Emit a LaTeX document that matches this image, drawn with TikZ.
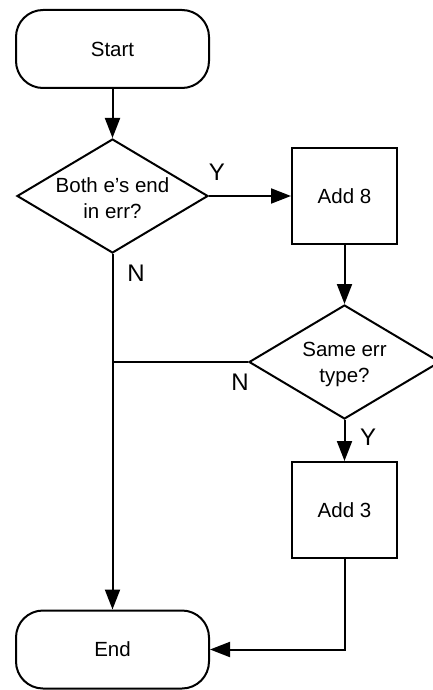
\documentclass[tikz,border=0pt]{standalone}
\usepackage{fontspec}
\setmainfont[Ligatures=NoCommon]{Liberation Sans}
\usetikzlibrary{shapes.geometric,arrows.meta}
\begin{document}
\begin{tikzpicture}[x=1pt,y=-1pt,
  every node/.style={font=\fontsize{20.5}{26}\selectfont},
  term/.style={draw,line width=2pt,rounded corners=27pt,minimum width=193pt,minimum height=78pt,inner sep=0pt},
  proc/.style={draw,line width=2pt,minimum width=105pt,minimum height=96pt,inner sep=0pt},
  decision/.style={draw,line width=2pt,diamond,minimum width=191pt,minimum height=114pt,inner sep=0pt},
  dtext/.style={align=center,inner sep=0pt},
  yn/.style={font=\fontsize{24}{28}\selectfont,inner sep=0pt},
  conn/.style={line width=2pt},
  arr/.style={conn,-{Triangle[length=20pt,width=15pt]}}]
\useasboundingbox (0,0) rectangle (433,690);
\clip (0,0) rectangle (433,690);
\node[term] (start) at (112.5,49) {Start};
\node[decision] (d1) at (112.5,196) {};
\node[dtext] (t1) at (112.5,198) {Both e{\char"27}s end\\in err?};
\node[proc] (a8) at (344.5,196) {Add 8};
\node[decision] (d2) at (344.5,362) {};
\node[dtext] (t2) at (344.5,364) {Same err\\type?};
\node[proc] (a3) at (344.5,510) {Add 3};
\node[term] (end) at (112.5,649.5) {End};
\coordinate (j) at (d1.south |- d2.west);
\coordinate (k) at (a3.south |- end.east);
\draw[arr] (start) -- (d1);
\draw[arr] (d1.east) -- (a8.west);
\draw[arr] (a8) -- (d2);
\draw[arr] (d2) -- (a3);
\draw[arr] (d1.south) -- (end.north);
\draw[conn] (d2.west) -- (j);
\draw[arr] (a3.south) -- (k) -- (end.east);
\node[yn] (y1) at (217,172) {Y};
\node[yn] (n1) at (136,273) {N};
\node[yn] (n2) at (240,382) {N};
\node[yn] (y2) at (368,437) {Y};
\end{tikzpicture}
\end{document}
